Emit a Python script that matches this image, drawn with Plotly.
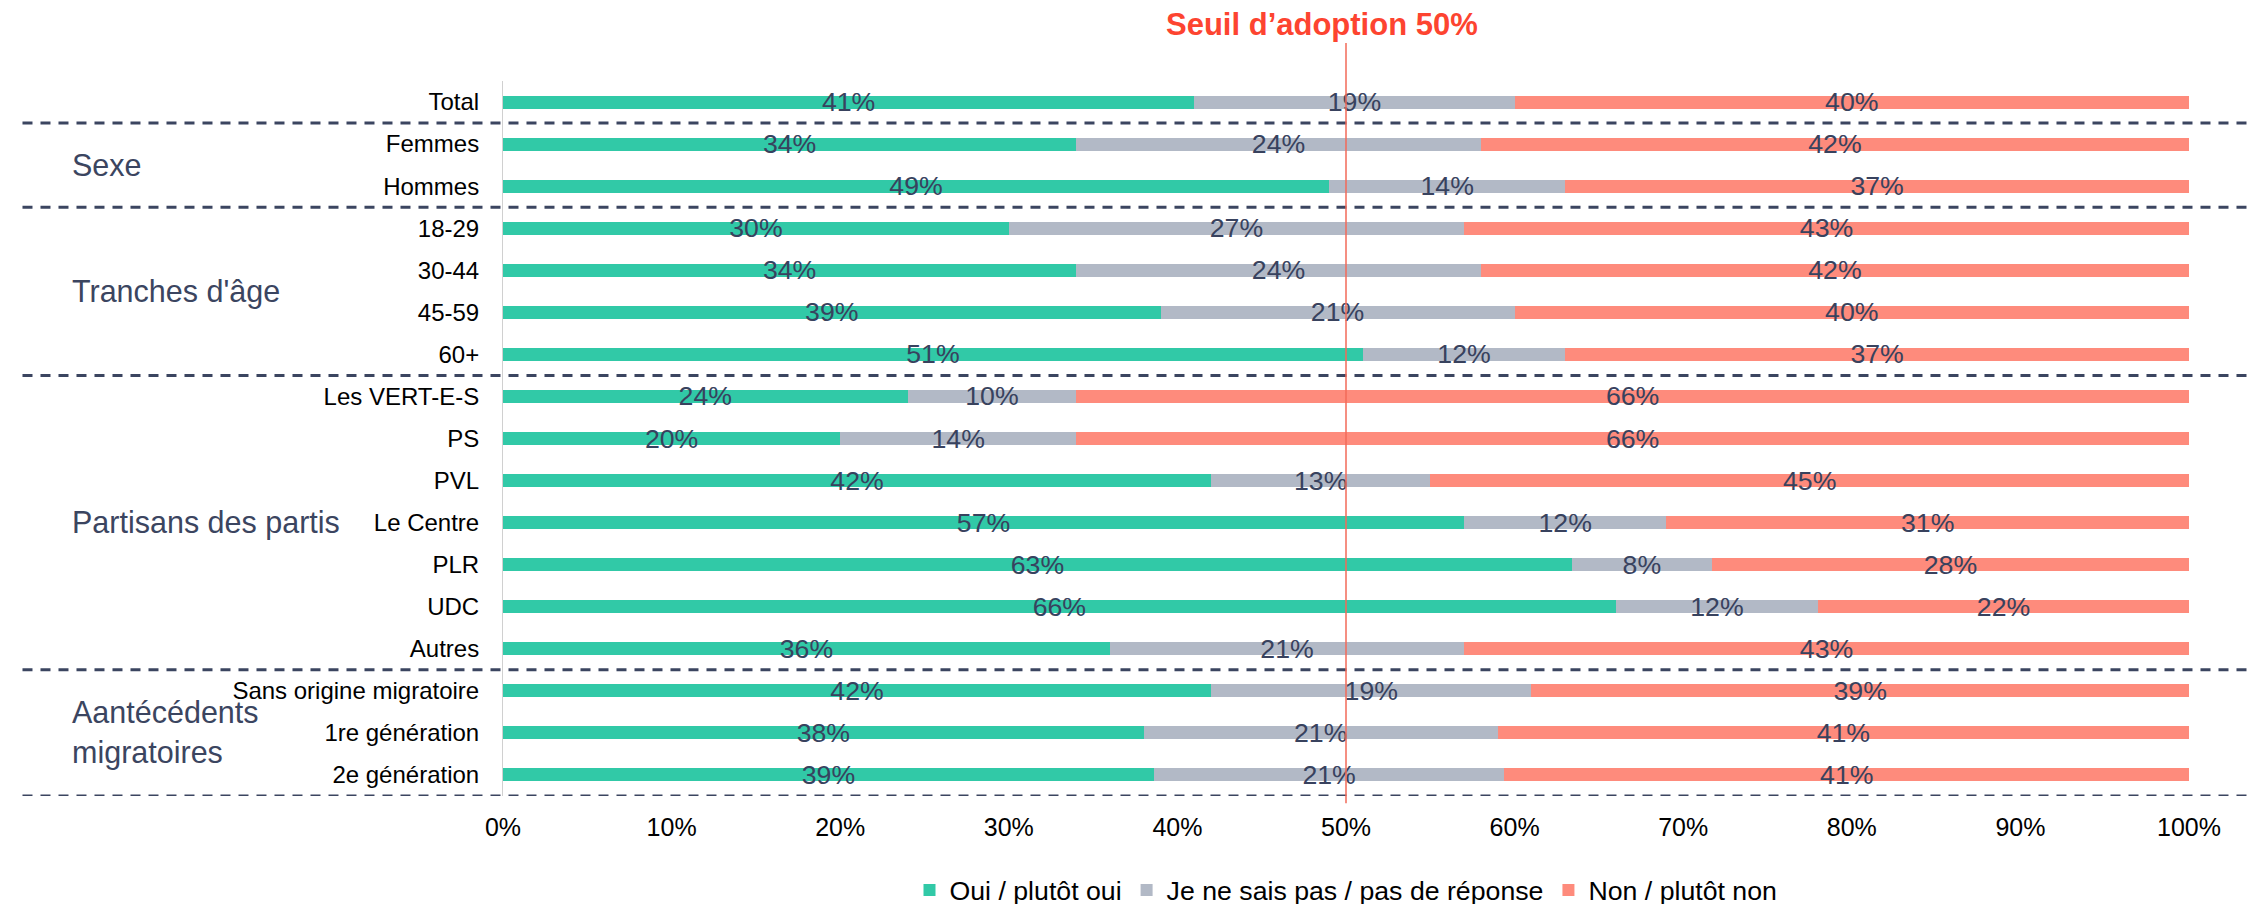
import plotly.graph_objects as go

categories = ["Total", "Femmes", "Hommes", "18-29", "30-44", "45-59", "60+",
              "Les VERT-E-S", "PS", "PVL", "Le Centre", "PLR", "UDC", "Autres",
              "Sans origine migratoire", "1re génération", "2e génération"]
oui = [41, 34, 49, 30, 34, 39, 51, 24, 20, 42, 57, 63.4, 66, 36, 42, 38, 38.6]
nsp = [19, 24, 14, 27, 24, 21, 12, 10, 14, 13, 12, 8.3, 12, 21, 19, 21, 20.8]
non = [40, 42, 37, 43, 42, 40, 37, 66, 66, 45, 31, 28.3, 22, 43, 39, 41, 40.6]

series_names = ["Oui / plutôt oui", "Je ne sais pas / pas de réponse", "Non / plutôt non"]
series_colors = ["#31c9a7", "#b2b9c6", "#fe8b7c"]

group_names = ["", "Sexe", "Tranches d'âge", "Partisans des partis", "Aantécédents<br>migratoires"]
group_sizes = [1, 2, 4, 7, 3]

x_ticks = [0, 10, 20, 30, 40, 50, 60, 70, 80, 90, 100]
x_tick_labels = ["0%", "10%", "20%", "30%", "40%", "50%", "60%", "70%", "80%", "90%", "100%"]
threshold = 50
threshold_label = "Seuil d’adoption 50%"

FONT = "Liberation Sans, Arial, sans-serif"
NAVY = "#38425e"

fig = go.Figure()
for name, vals, col in zip(series_names, [oui, nsp, non], series_colors):
    fig.add_trace(go.Bar(
        y=categories, x=vals, name=name, orientation="h",
        marker=dict(color=col, line=dict(width=0)),
        texttemplate="%{x:.0f}%", textposition="inside",
        insidetextanchor="middle", constraintext="none",
        textfont=dict(family=FONT, size=26.7, color=NAVY),
        hoverinfo="skip",
    ))

shapes = []
annotations = []
start = 0
for gname, size in zip(group_names, group_sizes):
    end = start + size - 1
    if gname:
        annotations.append(dict(
            text=gname, xref="paper", x=-0.2568, xanchor="left",
            yref="y", y=(start + end) / 2, yanchor="middle",
            showarrow=False, align="left",
            font=dict(family=FONT, size=30.5, color="#3b4560"),
        ))
    shapes.append(dict(
        type="line", xref="paper", x0=-0.285, x1=1.05,
        yref="y", y0=end + 0.5, y1=end + 0.5,
        line=dict(color="#3b4560", width=3, dash="10px,8px"),
    ))
    start = end + 1

shapes.append(dict(
    type="line", xref="x", x0=threshold, x1=threshold,
    yref="paper", y0=-0.01, y1=1.053,
    line=dict(color="#f26a58", width=1.5),
))
annotations.append(dict(
    text="<b>" + threshold_label + "</b>", xref="paper", x=0.486, xanchor="center",
    yref="paper", y=1.079, yanchor="middle", showarrow=False,
    font=dict(family=FONT, size=31, color="#fd4430"),
))

fig.update_layout(
    width=2255, height=904,
    margin=dict(l=495, r=74, t=73, b=116),
    barmode="stack", bargap=0.69,
    paper_bgcolor="white", plot_bgcolor="white",
    font=dict(family=FONT, color="black"),
    shapes=shapes, annotations=annotations,
    showlegend=True,
    legend=dict(orientation="h", x=0.5, xanchor="center",
                yref="container", y=0.0243, yanchor="middle",
                font=dict(family=FONT, size=26.7, color="black"),
                itemwidth=30, traceorder="normal"),
    xaxis=dict(range=[0, 100], tickmode="array", tickvals=x_ticks, ticktext=x_tick_labels,
               showgrid=False, zeroline=False, showline=False,
               ticks="", ticklabelstandoff=14,
               tickfont=dict(family=FONT, size=25, color="black")),
    yaxis=dict(range=[len(categories) - 0.5, -0.5], showgrid=False, zeroline=False,
               showline=True, linecolor="#d0d0d0", linewidth=1,
               ticks="", ticklabelstandoff=18,
               tickfont=dict(family=FONT, size=24, color="black")),
)

fig.write_html("out.html")
